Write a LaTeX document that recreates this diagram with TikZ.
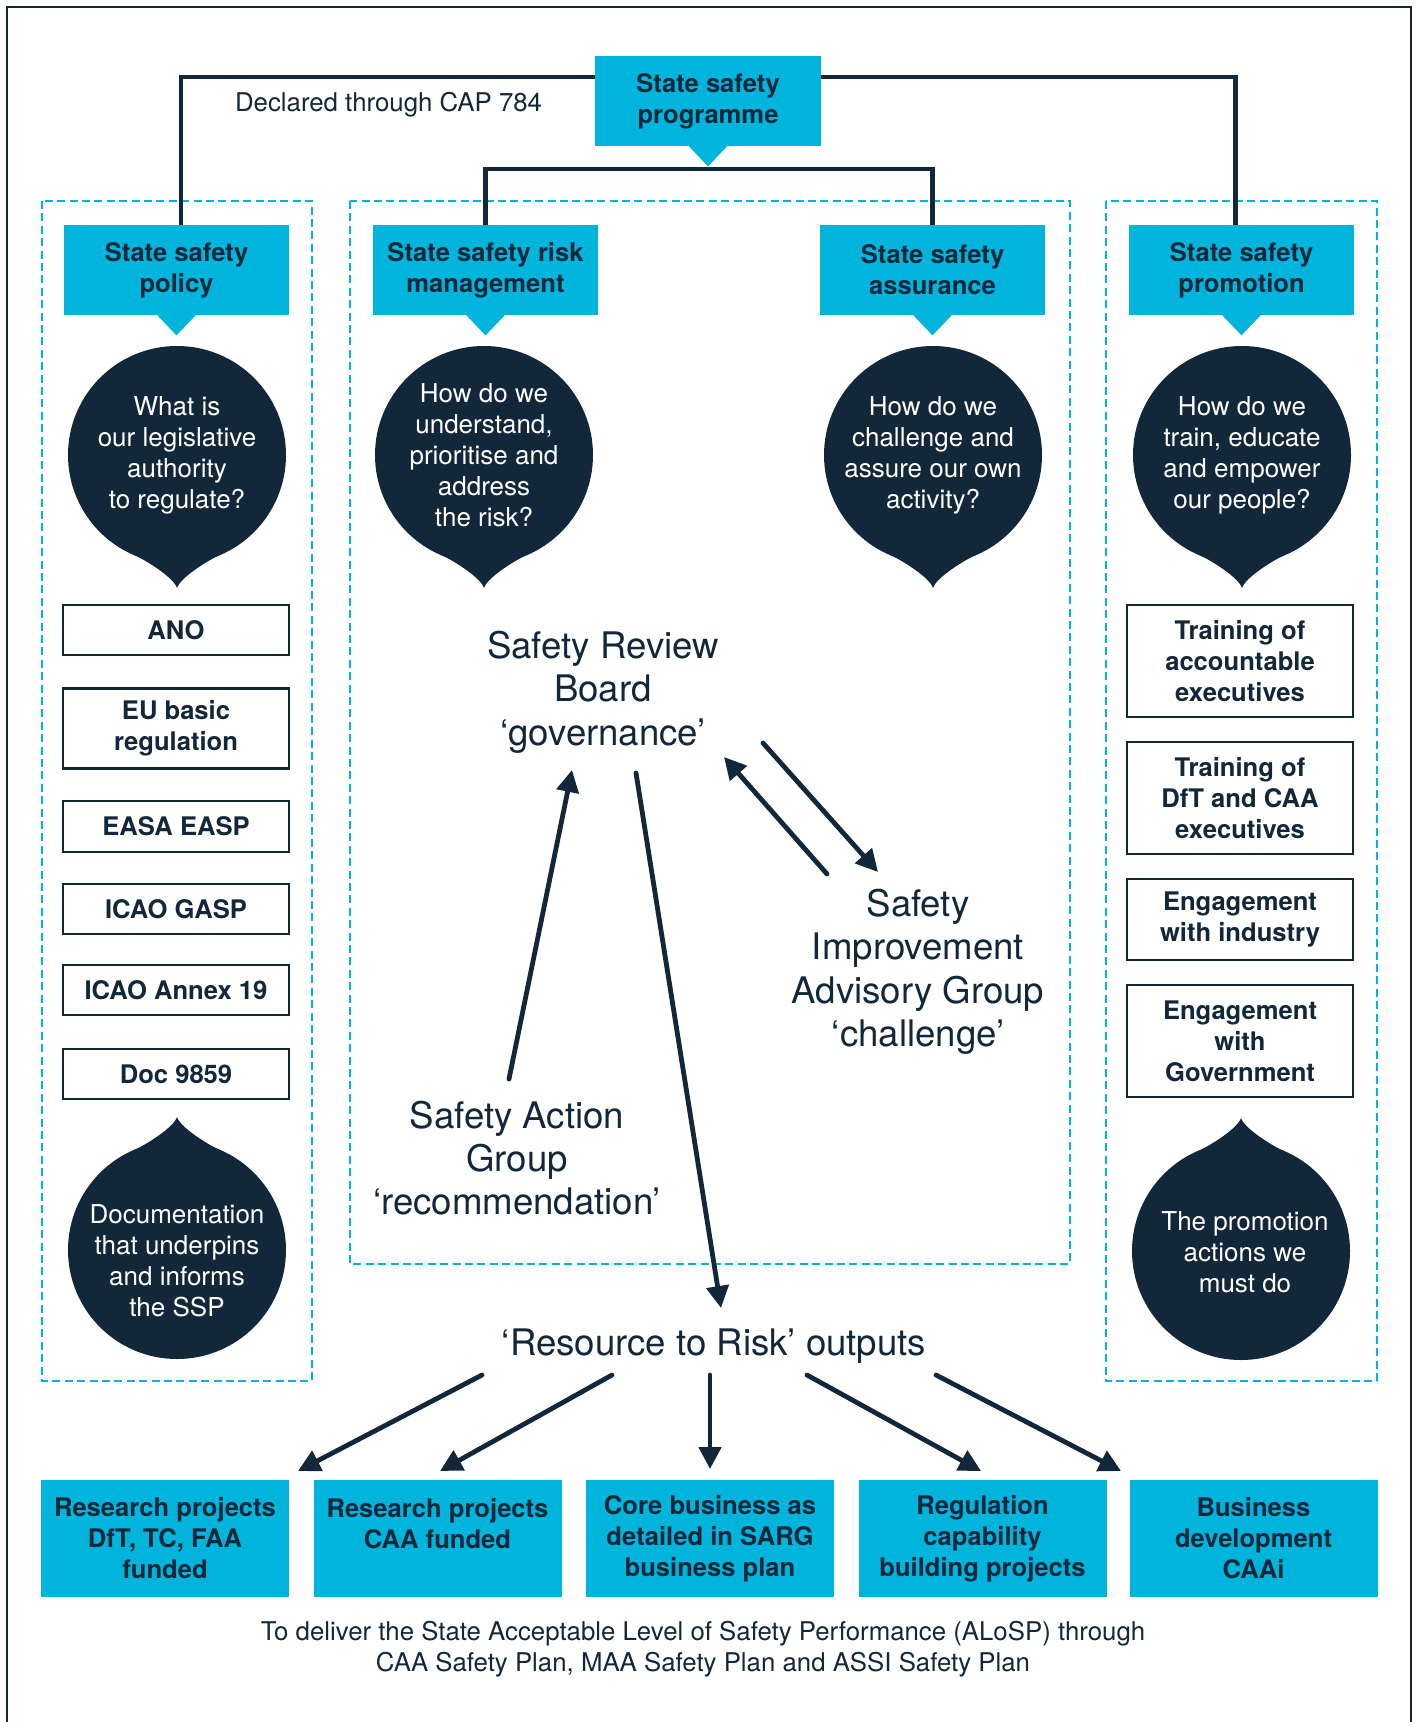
\documentclass[tikz,border=0pt]{standalone}
\usepackage{fontspec}
\setmainfont{TeX Gyre Heros}
\usetikzlibrary{arrows.meta,calc}
\definecolor{navy}{HTML}{12283A}
\definecolor{cyanc}{HTML}{00B4DC}
\tikzset{
  cbox/.style={fill=cyanc, text=navy, font=\bfseries\fontsize{12.8}{15.5}\selectfont, align=center, minimum width=113pt, minimum height=45pt, inner sep=0pt},
  wbox/.style={draw=navy, line width=1.2pt, fill=white, text=navy, font=\bfseries\fontsize{12.8}{15.5}\selectfont, align=center, minimum width=113pt, inner sep=0pt},
  bub/.style={circle, fill=navy, minimum size=109pt, inner sep=0pt},
  btxt/.style={text=white, align=center, font=\fontsize{13}{15.5}\selectfont},
  lbl/.style={text=navy, align=center, font=\fontsize{18.3}{21.7}\selectfont},
  small/.style={text=navy, align=center, font=\fontsize{12.9}{15.5}\selectfont},
  arr/.style={draw=navy, line width=2.4pt, line cap=round, -{Triangle[length=11pt,width=11pt]}},
  conn/.style={draw=navy, line width=2.4pt},
  dbox/.style={draw=cyanc, line width=1.4pt, dash pattern=on 4pt off 2.2pt},
}
\newcommand\ptrdown[1]{\fill[cyanc] ($(#1.south)+(-20,-1)$) -- ($(#1.south)+(20,-1)$) -- ($(#1.south)+(0,20)$) -- cycle;}
\newcommand\droptip[2]{\fill[navy] ($(#1.center)+(0,#2*133)$) .. controls ($(#1.center)+(3,#2*123)$) and ($(#1.center)+(29.6,#2*105.9)$) .. ($(#1.center)+(45.9,#2*98.3)$) -- (#1.center) -- ($(#1.center)+(-45.9,#2*98.3)$) .. controls ($(#1.center)+(-29.6,#2*105.9)$) and ($(#1.center)+(-3,#2*123)$) .. cycle;}
\begin{document}
\begin{tikzpicture}[x=0.5pt,y=-0.5pt]
\useasboundingbox (0,0) rectangle (1416,1722);
\fill[white] (0,0) rectangle (1416,1722);
% outer frame
\draw[navy, line width=1.2pt] (7,1722) -- (7,7) -- (1411,7) -- (1411,1722);
% dashed containers
\draw[dbox] (42,201) rectangle (312,1381);
\draw[dbox] (350,201) rectangle (1070,1264);
\draw[dbox] (1106,201) rectangle (1377,1381);
% top programme
\node[cbox] (ssp) at (708,101) {State safety\\programme};
\coordinate (ssptip) at (708,169);
\node[cbox, minimum width=112.5pt] (pol) at (176.5,270) {State safety\\policy};
\node[cbox, minimum width=112.5pt] (srm) at (485.5,270) {State safety risk\\management};
\node[cbox, minimum width=112.5pt] (ssa) at (932.5,270) {State safety\\assurance};
\node[cbox, minimum width=112.5pt] (ssprom) at (1241.5,270) {State safety\\promotion};
\draw[conn] ([xshift=2.2pt]pol.north) |- ([yshift=12pt]ssp.west);
\draw[conn] ([xshift=-3pt]ssprom.north) |- ([yshift=12pt]ssp.east);
\draw[conn] (srm.north) |- (ssptip) -| (ssa.north);
\ptrdown{ssp}
\ptrdown{pol}
\ptrdown{srm}
\ptrdown{ssa}
\ptrdown{ssprom}
\node[small, anchor=base west] (cap) at (228,112) {Declared through CAP 784};
% bubbles
\node[bub] (q1) at (177,455) {};
\node[bub] (q2) at (484,455) {};
\node[bub] (q3) at (933,455) {};
\node[bub] (q4) at (1242,455) {};
\node[bub] (q5) at (177,1250) {};
\node[bub] (q6) at (1241,1251) {};
\droptip{q1}{1}
\droptip{q2}{1}
\droptip{q3}{1}
\droptip{q4}{1}
\droptip{q5}{-1}
\droptip{q6}{-1}
\node[btxt] (q1t) at (q1) {What is\\our legislative\\authority\\to regulate?};
\node[btxt] (q2t) at (q2) {How do we\\understand,\\prioritise and\\address\\the risk?};
\node[btxt] (q3t) at (q3) {How do we\\challenge and\\assure our own\\activity?};
\node[btxt] (q4t) at (q4) {How do we\\train, educate\\and empower\\our people?};
\node[btxt] (q5t) at ($(q5)+(0,11)$) {Documentation\\that underpins\\and informs\\the SSP};
\node[btxt] (q6t) at ($(q6)+(4,1)$) {The promotion\\actions we\\must do};
% left column
\node[wbox, minimum height=25pt] (ano) at (176,630) {ANO};
\node[wbox, minimum height=40pt] (eu) at (176,728.5) {EU basic\\regulation};
\node[wbox, minimum height=25.5pt] (easa) at (176,826.5) {EASA EASP};
\node[wbox, minimum height=25pt] (gasp) at (176,909) {ICAO GASP};
\node[wbox, minimum height=25pt] (annex) at (176,990) {ICAO Annex 19};
\node[wbox, minimum height=25pt] (doc) at (176,1074) {Doc 9859};
% right column
\node[wbox, minimum height=56pt] (tr1) at (1240,661) {Training of\\accountable\\executives};
\node[wbox, minimum height=56pt] (tr2) at (1240,798) {Training of\\DfT and CAA\\executives};
\node[wbox, minimum height=40.5pt] (ei) at (1240,919.5) {Engagement\\with industry};
\node[wbox, minimum height=56pt] (eg) at (1240,1041) {Engagement\\with\\Government};
% central labels
\node[lbl] (srb) at (603,692) {Safety Review\\Board\\‘governance’};
\node[lbl] (siag) at (918,972) {Safety\\Improvement\\Advisory Group\\‘challenge’};
\node[lbl] (sag) at (517,1158) {Safety Action\\Group\\‘recommendation’};
\node[lbl] (rr) at (714,1346) {‘Resource to Risk’ outputs};
% arrow end points
\coordinate (sagT) at (509,1079);
\coordinate (srbB1) at (572,770);
\coordinate (srbB2) at (636,773);
\coordinate (rrT) at (721,1308);
\coordinate (siagT) at (827,874);
\coordinate (srbR1) at (724,757);
\coordinate (srbR2) at (763,743);
\coordinate (siagL) at (878,872);
\draw[arr] (sagT) -- (srbB1);
\draw[arr] (srbB2) -- (rrT);
\draw[arr] (siagT) -- (srbR1);
\draw[arr] (srbR2) -- (siagL);
% bottom boxes
\node[cbox, minimum width=124pt, minimum height=58.5pt] (b1) at (165,1538.5) {Research projects\\DfT, TC, FAA\\funded};
\node[cbox, minimum width=124pt, minimum height=58.5pt] (b2) at (437.5,1538.5) {Research projects\\CAA funded\\ \mbox{}};
\node[cbox, minimum width=124pt, minimum height=58.5pt] (b3) at (710,1538.5) {Core business as\\detailed in SARG\\business plan};
\node[cbox, minimum width=124pt, minimum height=58.5pt] (b4) at (982.5,1538.5) {Regulation\\capability\\building projects};
\node[cbox, minimum width=124pt, minimum height=58.5pt] (b5) at (1253.5,1538.5) {Business\\development\\CAAi};
\coordinate (r1) at (482,1375);
\coordinate (r2) at (612,1375);
\coordinate (r3) at (710,1375);
\coordinate (r4) at (807,1375);
\coordinate (r5) at (936,1375);
\coordinate (t1) at (298,1471);
\coordinate (t2) at (440,1471);
\coordinate (t3) at (710,1469);
\coordinate (t4) at (981,1471);
\coordinate (t5) at (1121,1471);
\draw[arr] (r1) -- (t1);
\draw[arr] (r2) -- (t2);
\draw[arr] (r3) -- (t3);
\draw[arr] (r4) -- (t4);
\draw[arr] (r5) -- (t5);
\node[small] (foot) at (703,1649) {To deliver the State Acceptable Level of Safety Performance (ALoSP) through\\CAA Safety Plan, MAA Safety Plan and ASSI Safety Plan};
\end{tikzpicture}
\end{document}
